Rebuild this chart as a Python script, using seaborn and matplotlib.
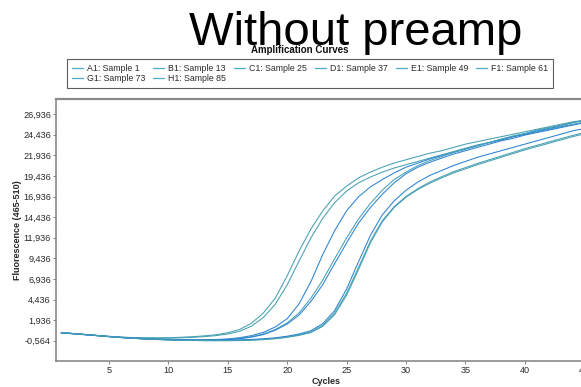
import numpy as np
import pandas as pd
import matplotlib
matplotlib.use("Agg")
import matplotlib.pyplot as plt
from matplotlib.lines import Line2D
import seaborn as sns

# ---- data -------------------------------------------------------------
cycles = list(range(1, 46))

samples = ["A1: Sample 1", "B1: Sample 13", "C1: Sample 25", "D1: Sample 37",
           "E1: Sample 49", "F1: Sample 61", "G1: Sample 73", "H1: Sample 85"]

a1 = [0.40, 0.30, 0.19, 0.08, -0.03, -0.12, -0.18, -0.21, -0.22, -0.20, -0.15, -0.08, 0.02,
      0.15, 0.40, 0.80, 1.55, 2.80, 4.60, 7.30, 10.30, 13.00, 15.20, 17.00, 18.20, 19.20,
      19.90, 20.50, 21.00, 21.40, 21.80, 22.20, 22.50, 22.90, 23.30, 23.60, 23.90, 24.20,
      24.50, 24.80, 25.10, 25.40, 25.70, 26.00, 26.20]
b1 = [0.38, 0.27, 0.16, 0.05, -0.06, -0.15, -0.21, -0.25, -0.27, -0.26, -0.22, -0.16, -0.08,
      0.05, 0.25, 0.58, 1.20, 2.25, 3.85, 6.20, 9.10, 11.90, 14.30, 16.20, 17.60, 18.60,
      19.30, 19.90, 20.40, 20.80, 21.20, 21.60, 22.00, 22.40, 22.80, 23.20, 23.50, 23.90,
      24.20, 24.50, 24.80, 25.10, 25.40, 25.70, 26.00]
c1 = [0.42, 0.31, 0.20, 0.08, -0.04, -0.14, -0.23, -0.30, -0.36, -0.40, -0.43, -0.45, -0.45,
      -0.42, -0.35, -0.20, 0.05, 0.45, 1.10, 2.10, 3.90, 6.60, 9.90, 12.80, 15.20, 16.90,
      18.10, 19.00, 19.80, 20.50, 21.00, 21.50, 21.90, 22.30, 22.70, 23.10, 23.50, 23.80,
      24.20, 24.50, 24.90, 25.20, 25.50, 25.90, 26.20]
d1 = [0.40, 0.29, 0.18, 0.06, -0.06, -0.17, -0.26, -0.33, -0.39, -0.43, -0.46, -0.48, -0.48,
      -0.46, -0.40, -0.28, -0.08, 0.25, 0.80, 1.60, 2.80, 4.60, 6.80, 9.40, 11.90, 14.20,
      16.10, 17.70, 19.00, 19.90, 20.70, 21.30, 21.80, 22.30, 22.70, 23.10, 23.50, 23.90,
      24.30, 24.60, 25.00, 25.30, 25.60, 25.90, 26.20]
e1 = [0.39, 0.28, 0.17, 0.05, -0.07, -0.18, -0.27, -0.34, -0.40, -0.44, -0.47, -0.49, -0.50,
      -0.49, -0.44, -0.33, -0.13, 0.18, 0.70, 1.45, 2.55, 4.20, 6.25, 8.80, 11.30, 13.70,
      15.60, 17.20, 18.60, 19.70, 20.50, 21.10, 21.60, 22.10, 22.50, 22.90, 23.30, 23.70,
      24.00, 24.40, 24.70, 25.00, 25.30, 25.60, 25.90]
f1 = [0.41, 0.30, 0.18, 0.06, -0.06, -0.17, -0.27, -0.35, -0.42, -0.47, -0.51, -0.54, -0.55,
      -0.55, -0.55, -0.53, -0.48, -0.40, -0.28, -0.10, 0.15, 0.50, 1.30, 2.80, 5.20, 8.30,
      11.50, 14.00, 15.70, 16.95, 17.90, 18.70, 19.35, 19.95, 20.45, 20.95, 21.40, 21.85,
      22.30, 22.75, 23.15, 23.55, 23.95, 24.35, 24.70]
g1 = [0.40, 0.29, 0.17, 0.05, -0.07, -0.18, -0.27, -0.34, -0.40, -0.44, -0.47, -0.49, -0.50,
      -0.50, -0.49, -0.46, -0.41, -0.33, -0.21, -0.02, 0.25, 0.65, 1.50, 3.10, 5.70, 9.00,
      12.20, 14.70, 16.40, 17.70, 18.70, 19.50, 20.10, 20.70, 21.20, 21.70, 22.10, 22.50,
      22.90, 23.30, 23.70, 24.10, 24.50, 24.90, 25.20]
h1 = [0.42, 0.31, 0.19, 0.07, -0.05, -0.16, -0.26, -0.34, -0.41, -0.46, -0.50, -0.53, -0.55,
      -0.56, -0.56, -0.55, -0.51, -0.44, -0.33, -0.16, 0.08, 0.42, 1.18, 2.60, 4.95, 8.05,
      11.30, 13.85, 15.60, 16.85, 17.80, 18.55, 19.20, 19.80, 20.30, 20.80, 21.25, 21.70,
      22.15, 22.60, 23.00, 23.40, 23.80, 24.20, 24.55]

series = [a1, b1, c1, d1, e1, f1, g1, h1]

x_ticks = [5, 10, 15, 20, 25, 30, 35, 40, 45]
y_ticks = [-0.564, 1.936, 4.436, 6.936, 9.436, 11.936, 14.436, 16.936,
           19.436, 21.936, 24.436, 26.936]
y_tick_labels = [f"{v:.3f}".replace(".", ",") for v in y_ticks]

df = pd.DataFrame({
    "Cycles": np.tile(cycles, len(samples)),
    "Fluorescence": np.concatenate(series),
    "Sample": np.repeat(samples, len(cycles)),
})

# ---- style ------------------------------------------------------------
sns.set_theme(style="white")
plt.rcParams["font.family"] = ["Liberation Sans", "DejaVu Sans"]

teal = "#45a0b2"
blue = "#2a82d4"
legend_color = "#4aabcc"
palette = dict(zip(samples, [teal, teal, blue, teal, blue, teal, blue, teal]))

fig = plt.figure(figsize=(5.81, 3.87), dpi=100)
ax = fig.add_axes([0.0972, 0.068, 0.929, 0.676])

sns.lineplot(data=df, x="Cycles", y="Fluorescence", hue="Sample",
             palette=palette, estimator=None, sort=False, legend=False,
             linewidth=0.75, ax=ax)

ax.set_xlim(0.6, 46.0)
ax.set_ylim(-2.99, 28.77)
ax.set_xticks(x_ticks)
ax.set_xticklabels([str(t) for t in x_ticks])
ax.set_yticks(y_ticks)
ax.set_yticklabels(y_tick_labels)

ax.tick_params(axis="both", which="major", length=2.5, width=0.7,
               color="#808080", labelsize=6.6, labelcolor="#2a2a2a",
               left=True, bottom=True, pad=1.5)

for side in ["left", "bottom"]:
    ax.spines[side].set_color("#808080")
    ax.spines[side].set_linewidth(1.1)
ax.spines["top"].set_color("#8a8a8a")
ax.spines["top"].set_linewidth(1.6)
ax.spines["right"].set_visible(False)

ax.set_xlabel("Cycles", fontsize=6.5, fontweight="bold", labelpad=1.5)
ax.set_ylabel("Fluorescence (465-510)", fontsize=6.5, fontweight="bold", labelpad=1)

# ---- legend (row-wise order: A..F on the first row, G, H below) -------
order = [0, 6, 1, 7, 2, 3, 4, 5]
handles = [Line2D([], [], color=legend_color, linewidth=0.9) for _ in samples]
leg = fig.legend([handles[i] for i in order], [samples[i] for i in order],
                 loc="upper left",
                 bbox_to_anchor=(67 / 581, 1 - 59 / 387), borderaxespad=0,
                 ncol=6, fontsize=6.3, frameon=True, fancybox=False,
                 handlelength=1.3, handletextpad=0.42, columnspacing=0.9,
                 labelspacing=0.15, borderpad=0.55)
leg.get_frame().set_edgecolor("#333333")
leg.get_frame().set_linewidth(0.8)
for t in leg.get_texts():
    t.set_color("#2a2a2a")

# ---- titles -----------------------------------------------------------
fig.text(300 / 581, 1 - 50 / 387, "Amplification Curves", ha="center",
         va="center", fontsize=7, fontweight="bold", color="#111111")
fig.text(355.5 / 581, 1 - 45 / 387, "Without preamp", ha="center",
         va="baseline", fontsize=34, color="black")

fig.savefig("out.png", dpi=100)
